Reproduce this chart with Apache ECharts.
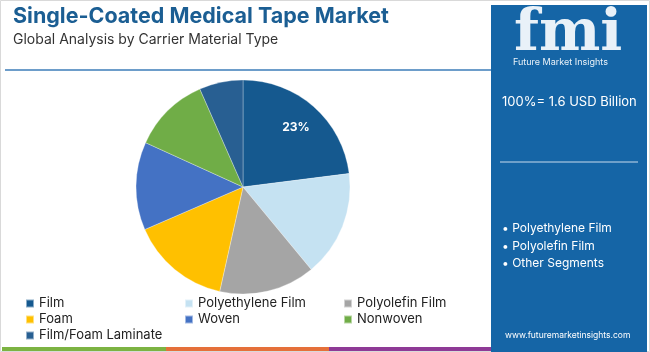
<!DOCTYPE html>
<html>
<head>
<meta charset="utf-8">
<script src="https://cdn.jsdelivr.net/npm/echarts@6/dist/echarts.min.js"></script>
<style>
  html, body { margin: 0; padding: 0; background: #fff; }
  #chart { width: 650px; height: 352px; }
</style>
</head>
<body>
<div id="chart"></div>
<script>
// Single-Coated Medical Tape Market - share by carrier material
const categories = ['Film', 'Polyethylene Film', 'Polyolefin Film', 'Foam', 'Woven', 'Nonwoven', 'Film/Foam Laminate'];
const shares = [23, 16, 14.5, 15, 13.3, 11.6, 6.6];
const colors = ['#15598f', '#c5e2f2', '#a5a5a5', '#ffc000', '#4472c4', '#70ad47', '#285f92'];
const shownLabels = ['Film'];
const highlights = ['Polyethylene Film', 'Polyolefin Film', 'Other Segments'];
const totalText = '100%= 1.6 USD Billion';

const chart = echarts.init(document.getElementById('chart'));
const font = 'Inter, "Noto Sans", sans-serif';

const pieData = categories.map((name, i) => ({
  name,
  value: shares[i],
  itemStyle: { color: colors[i] }
}));

const option = {
  backgroundColor: '#fff',
  animation: false,
  color: colors,
  legend: {
    left: 25,
    top: 297,
    padding: 0,
    width: 480,
    itemWidth: 8,
    itemHeight: 8,
    itemGap: 3,
    icon: 'rect',
    data: categories,
    textStyle: { fontFamily: font, fontSize: 13, color: '#222', width: 142, lineHeight: 11 }
  },
  series: [
    {
      type: 'pie',
      center: [243, 187],
      radius: 107,
      startAngle: 90,
      clockwise: true,
      label: { show: false },
      labelLine: { show: false },
      itemStyle: { borderColor: 'rgba(255,255,255,0.5)', borderWidth: 0.6 },
      emphasis: { disabled: true },
      data: pieData
    },
    {
      // transparent ring used only to place the percentage label
      type: 'pie',
      center: [243, 187],
      radius: [47, 107],
      startAngle: 90,
      silent: true,
      legendHoverLink: false,
      itemStyle: { color: 'rgba(0,0,0,0)' },
      label: {
        show: true,
        position: 'inside',
        fontFamily: font,
        fontWeight: 'bold',
        fontSize: 12,
        color: '#fff',
        formatter: p => shownLabels.includes(p.name.trim()) ? Math.round(p.value) + '%' : ''
      },
      labelLine: { show: false },
      data: categories.map((name, i) => ({ name: name + ' ', value: shares[i] }))
    }
  ],
  graphic: [
    { type: 'rect', shape: { x: 0.5, y: 0.5, width: 649, height: 351 }, style: { fill: 'none', stroke: '#d9d9d9', lineWidth: 1 } },
    { type: 'text', left: 13, top: 6, style: { text: 'Single-Coated Medical Tape Market', fontFamily: font, fontWeight: 'bold', fontSize: 21.5, fill: '#1b5e93' } },
    { type: 'text', left: 13, top: 33, style: { text: 'Global Analysis by Carrier Material Type', fontFamily: font, fontSize: 14, fill: '#333' } },
    { type: 'line', shape: { x1: 5, y1: 70, x2: 491, y2: 70 }, style: { stroke: '#3d7db8', lineWidth: 1.5 } },
    { type: 'rect', shape: { x: 2, y: 347, width: 164, height: 4 }, style: { fill: '#7cb342' } },
    { type: 'rect', shape: { x: 166, y: 347, width: 163, height: 4 }, style: { fill: '#e5703a' } },
    { type: 'rect', shape: { x: 329, y: 347, width: 162, height: 4 }, style: { fill: '#8e3a96' } },
    { type: 'rect', shape: { x: 491, y: 5, width: 156, height: 347 }, style: { fill: '#1565a6' } },
    { type: 'text', left: 514, top: 6, style: { text: 'fmi', fontFamily: '"DejaVu Serif", serif', fontWeight: 'bold', fontSize: 58, fill: '#e9f1f8' } },
    { type: 'text', left: 513, top: 58, style: { text: 'Future Market Insights', fontFamily: font, fontSize: 9, fill: '#e9f1f8' } },
    { type: 'text', left: 502, top: 96, style: { text: totalText, fontFamily: font, fontSize: 13, fill: '#fff' } },
    { type: 'line', shape: { x1: 500, y1: 162, x2: 638, y2: 162 }, style: { stroke: '#c9dced', lineWidth: 1 } },
    { type: 'text', left: 502, top: 220, style: { text: highlights.map(s => '\u2022 ' + s).join('\n'), fontFamily: font, fontSize: 12, lineHeight: 17.5, fill: '#fff' } },
    { type: 'text', left: 505, top: 331, style: { text: 'www.futuremarketinsights.com', fontFamily: font, fontSize: 8.5, fill: '#fff' } }
  ]
};

chart.setOption(option);
</script>
</body>
</html>
